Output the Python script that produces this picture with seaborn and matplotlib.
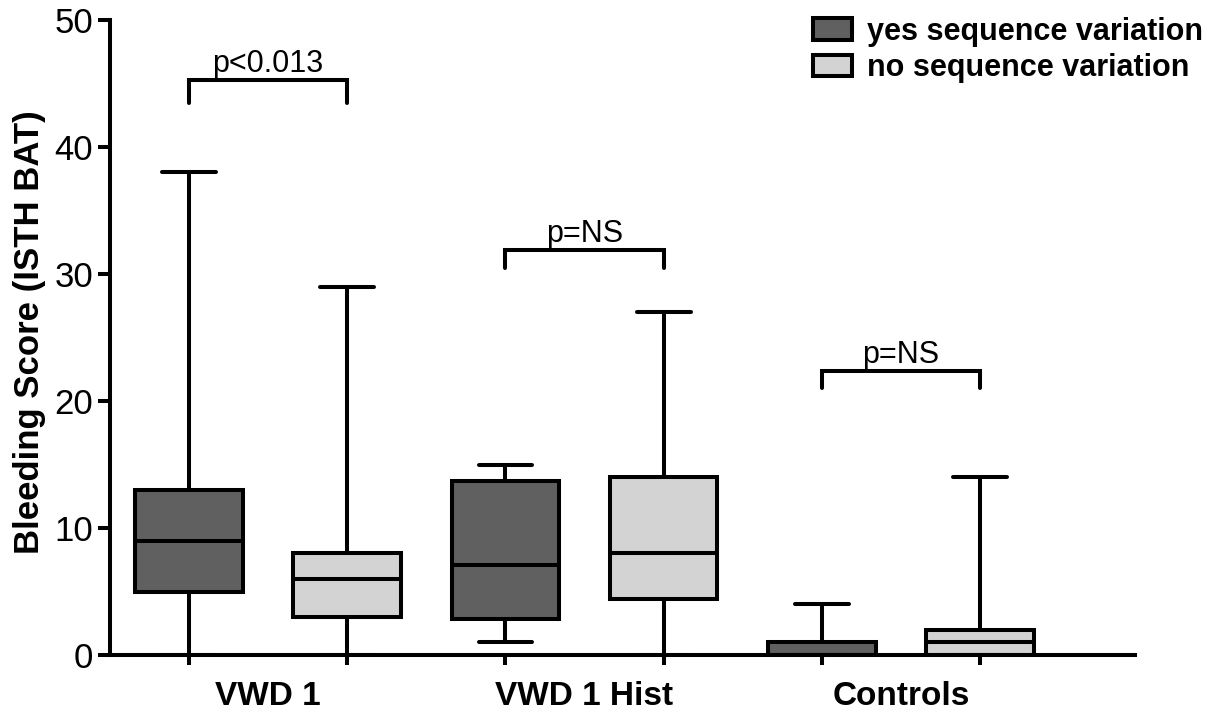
import numpy as np
import pandas as pd
import matplotlib
matplotlib.use("Agg")
import matplotlib.pyplot as plt
import seaborn as sns
from matplotlib.patches import Patch
from matplotlib.font_manager import FontProperties

# ---- data (five-number summaries: min, Q1, median, Q3, max)
groups = ["VWD 1", "VWD 1 Hist", "Controls"]
variations = ["yes sequence variation", "no sequence variation"]
vwd1_yes = [0, 5, 9, 13, 38]
vwd1_no = [0, 3, 6, 8, 29]
hist_yes = [1, 2.8, 7.1, 13.7, 15]
hist_no = [0, 4.4, 8, 14, 27]
ctrl_yes = [0, 0, 0, 1, 4]
ctrl_no = [0, 0, 1, 2, 14]
yticks = [0, 10, 20, 30, 40, 50]
p_labels = ["p<0.013", "p=NS", "p=NS"]
bracket_levels = [45.3, 31.9, 22.4]
bracket_drop = [1.8, 1.4, 1.4]
colors = ["#606060", "#d3d3d3"]

series = {
    ("VWD 1", variations[0]): vwd1_yes,
    ("VWD 1", variations[1]): vwd1_no,
    ("VWD 1 Hist", variations[0]): hist_yes,
    ("VWD 1 Hist", variations[1]): hist_no,
    ("Controls", variations[0]): ctrl_yes,
    ("Controls", variations[1]): ctrl_no,
}
rows = []
for (g, v), vals in series.items():
    for val in vals:
        rows.append({"group": g, "variation": v, "score": val})
df = pd.DataFrame(rows)

sns.set_theme(style="white")
plt.rcParams["font.family"] = ["Liberation Sans", "DejaVu Sans"]
plt.rcParams["text.color"] = "black"
plt.rcParams["axes.labelcolor"] = "black"
plt.rcParams["xtick.color"] = "black"
plt.rcParams["ytick.color"] = "black"

LW = 2.9
fig = plt.figure(figsize=(12.22, 7.17), dpi=100)
ax = fig.add_axes([110 / 1222, 62 / 717, 1025 / 1222, 635 / 717])

sns.boxplot(data=df, x="group", y="score", hue="variation", order=groups,
            hue_order=variations, palette=colors, saturation=1,
            whis=(0, 100), width=1.0, gap=0.32, linewidth=LW,
            linecolor="black", fliersize=0, legend=False, ax=ax)

ax.set_xlim(-0.5, 2.74)
ax.set_ylim(0, 50)
ax.set_yticks(yticks)
ax.set_yticklabels([str(t) for t in yticks], fontsize=25)

for s in ["top", "right"]:
    ax.spines[s].set_visible(False)
for s in ["left", "bottom"]:
    ax.spines[s].set_linewidth(LW)
    ax.spines[s].set_color("black")

ax.tick_params(axis="y", which="major", direction="out", length=8.6,
               width=LW, color="black", pad=3.5, left=True)
ax.set_xticks(range(len(groups)))
ax.set_xticklabels(groups, fontsize=24, fontweight="bold")
ax.tick_params(axis="x", which="major", length=0, pad=19)
box_pos = [i + d for i in range(len(groups)) for d in (-0.25, 0.25)]
ax.set_xticks(box_pos, minor=True)
ax.tick_params(axis="x", which="minor", direction="out", length=7.5,
               width=LW, color="black", bottom=True)

ax.set_xlabel("")
ax.set_ylabel("Bleeding Score (ISTH BAT)", fontsize=25, fontweight="bold")
ax.yaxis.set_label_coords(-0.062, 0.508)

for i, (lab, lvl, drop) in enumerate(zip(p_labels, bracket_levels, bracket_drop)):
    x0, x1 = i - 0.25, i + 0.25
    ax.plot([x0, x0, x1, x1], [lvl - drop, lvl, lvl, lvl - drop],
            color="black", lw=LW, solid_joinstyle="miter", clip_on=False)
    ax.text(i, lvl + 0.6, lab, ha="center", va="baseline", fontsize=22)

handles = [Patch(facecolor=c, edgecolor="black", linewidth=LW) for c in colors]
fig.legend(handles, variations, loc="upper left",
           bbox_to_anchor=(813 / 1222, 1 - 17 / 717), frameon=False,
           prop=FontProperties(family=["Liberation Sans", "DejaVu Sans"],
                               weight="bold", size=22),
           handlelength=1.28, handleheight=0.72, handletextpad=0.5,
           labelspacing=0.2, borderaxespad=0, borderpad=0)

fig.savefig("out.png", dpi=100)
